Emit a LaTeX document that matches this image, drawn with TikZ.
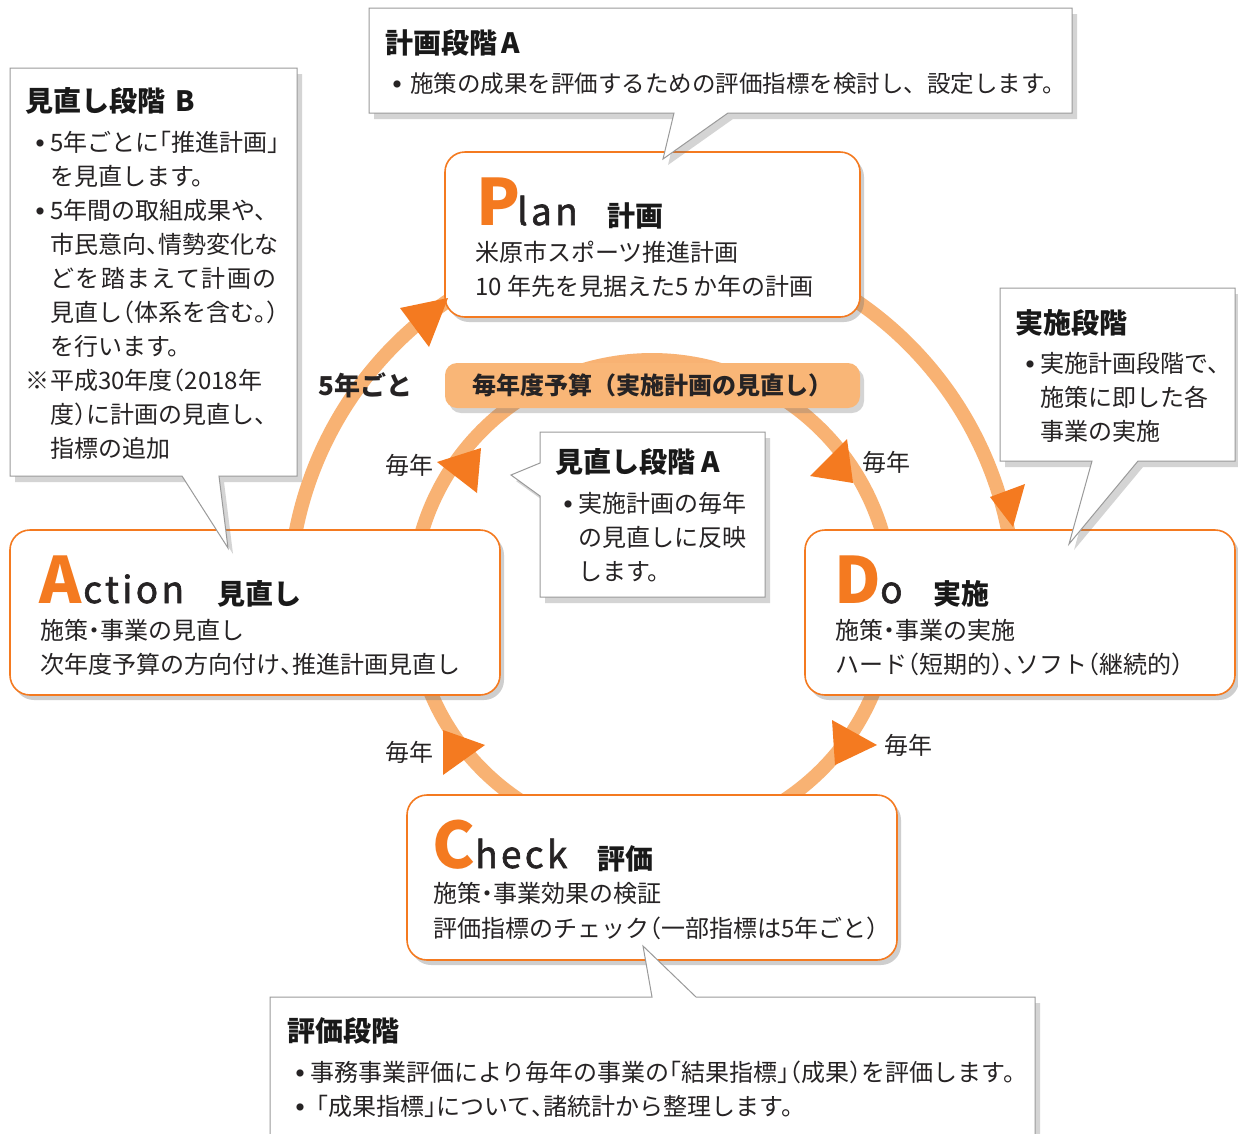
\documentclass[tikz,border=0pt]{standalone}
\usepackage{fontspec}
\setmainfont{Noto Sans CJK JP}
\newfontfamily\widefont[LetterSpace=9, FakeBold=1.6]{Noto Sans CJK JP}
\usetikzlibrary{shadows}
\definecolor{ora}{HTML}{F47A20}
\definecolor{ringc}{HTML}{F8B273}
\definecolor{barc}{HTML}{F9B677}
\definecolor{txtc}{HTML}{262324}
\definecolor{cgray}{HTML}{9A9A9A}
\newcommand\oq[1]{\makebox[.5em][r]{#1}}
\newcommand\cq[1]{\makebox[.5em][l]{#1}}
\newcommand\md{\makebox[.5em][c]{・}}
\newcommand\dotb{\raisebox{5pt}{\fontsize{8}{8}\selectfont ●}}
\newcommand\bul{\makebox[14pt][l]{\dotb}}
\tikzset{
  stagebox/.style={draw=ora, line width=1.6pt, fill=white, rounded corners=20pt,
    drop shadow={shadow xshift=4pt, shadow yshift=-5pt, opacity=0.35, fill=black!55}},
  calloutbox/.style={draw=cgray, line width=1pt, fill=white,
    drop shadow={shadow xshift=5pt, shadow yshift=-6pt, opacity=0.3, fill=black!55}},
  ringline/.style={draw=ringc, line width=14pt},
  tri/.style={fill=ora},
  txt/.style={anchor=base west, inner sep=0pt, text=txtc, font=\fontsize{24}{24}\selectfont},
  smalltxt/.style={txt, font=\fontsize{23.5}{23.5}\selectfont},
  ttl/.style={anchor=base west, inner sep=0pt, text=black!90, font=\fontsize{28}{28}\selectfont\bfseries},
  bigL/.style={anchor=base west, inner sep=0pt, text=ora, font=\fontsize{64}{64}\selectfont\bfseries},
  bigR/.style={anchor=base west, inner sep=0pt, text=txtc, font=\fontsize{37}{37}\selectfont\widefont},
  lbl/.style={anchor=base west, inner sep=0pt, text=txtc, font=\fontsize{24}{24}\selectfont}
}
\begin{document}
\begin{tikzpicture}[x=1pt,y=-1pt]
\useasboundingbox[fill=white] (0,0) rectangle (1238,1133);

% ring arcs
\draw[ringline] plot[domain=185:240, samples=60] ({652+363*cos(\x)},{601+363*sin(\x)});
\draw[ringline] plot[domain=300:355, samples=60] ({652+363*cos(\x)},{601+363*sin(\x)});
\draw[ringline] plot[domain=190:350, samples=120] ({652+240*cos(\x)},{600+240*sin(\x)});
\draw[ringline] plot[domain=118:165, samples=60] ({652+240*cos(\x)},{600+240*sin(\x)});
\draw[ringline] plot[domain=15:62, samples=60] ({652+240*cos(\x)},{600+240*sin(\x)});

% stage boxes
\node[stagebox, minimum width=415pt, minimum height=165pt] (plan) at (652.5,234.5) {};
\node[stagebox, minimum width=490pt, minimum height=165pt] (action) at (255,612.5) {};
\node[stagebox, minimum width=430pt, minimum height=165pt] (do) at (1020,612.5) {};
\node[stagebox, minimum width=490pt, minimum height=165pt] (check) at (652,877.5) {};

% budget bar
\node[fill=barc, rounded corners=12pt, minimum width=415pt, minimum height=45pt,
  drop shadow={shadow xshift=4pt, shadow yshift=-5pt, opacity=0.3, fill=black!55},
  text=txtc, font=\fontsize{24}{24}\selectfont\bfseries] (budget) at (652.5,385.5) {毎年度予算（実施計画の見直し）};

% arrowheads
\fill[tri] (400,308) -- (448,298) -- (429,347) -- cycle;
\fill[tri] (990,497) -- (1025,484) -- (1013,527) -- cycle;
\fill[tri] (437,462) -- (481,448) -- (477,493) -- cycle;
\fill[tri] (810,476) -- (847,439) -- (853,483) -- cycle;
\fill[tri] (443,730) -- (485,745) -- (443,775) -- cycle;
\fill[tri] (832,720) -- (877,745) -- (835,765) -- cycle;

% callouts
\path[calloutbox] (369,8) -- (1072,8) -- (1072,113) -- (728,113) -- (663,159) -- (674,113) -- (369,113) -- cycle;
\path[calloutbox] (10,68) -- (297,68) -- (297,476) -- (219,476) -- (228,548) -- (182,476) -- (10,476) -- cycle;
\path[calloutbox] (1000,288) -- (1235,288) -- (1235,461) -- (1138,461) -- (1069,544) -- (1092,461) -- (1000,461) -- cycle;
\path[calloutbox] (540,432) -- (765,432) -- (765,597) -- (540,597) -- (540,496) -- (511,475) -- (540,463) -- cycle;
\path[calloutbox] (270,997) -- (652,997) -- (643,946) -- (696,997) -- (1035,997) -- (1035,1145) -- (270,1145) -- cycle;

% Plan
\node[bigL] (planP) at (476,225) {P};
\node[bigR] (planR) at (517,225) {lan};
\node[ttl] (planT) at (607,226) {計画};
\node[txt] (plan1) at (475,261) {米原市スポーツ推進計画};
\node[txt] (plan2) at (475,295) {10 年先を見据えた5 か年の計画};

% Action
\node[bigL] (actA) at (39,603) {A};
\node[bigR] (actR) at (83,603) {ction};
\node[ttl] (actT) at (217,604) {見直し};
\node[txt] (act1) at (40,639) {施策\md 事業の見直し};
\node[txt] (act2) at (40,673) {次年度予算の方向付け\cq{、}推進計画見直し};

% Do
\node[bigL] (doD) at (834,603) {D};
\node[bigR] (doR) at (880,603) {o};
\node[ttl] (doT) at (933,604) {実施};
\node[txt] (do1) at (835,639) {施策\md 事業の実施};
\node[txt] (do2) at (835,673) {ハード\oq{（}短期的\cq{）}\cq{、}ソフト\oq{（}継続的\cq{）}};

% Check
\node[bigL] (chkC) at (432,868) {C};
\node[bigR] (chkR) at (475,868) {heck};
\node[ttl] (chkT) at (597,869) {評価};
\node[txt] (chk1) at (433,902) {施策\md 事業効果の検証};
\node[txt] (chk2) at (433,937) {評価指標のチェック\oq{（}一部指標は5年ごと\cq{）}};

% labels on ring
\node[lbl, font=\fontsize{26}{26}\selectfont\bfseries] (five) at (318,395) {5年ごと};
\node[lbl] (ev1) at (385,474) {毎年};
\node[lbl] (ev2) at (862,471) {毎年};
\node[lbl] (ev3) at (385,761) {毎年};
\node[lbl] (ev4) at (884,754) {毎年};

% callout texts: 計画段階A
\node[ttl] (cA) at (385,53) {計画段階\,A};
\node[smalltxt] (cA1) at (393,92) {\makebox[17pt][l]{\dotb}施策の成果を評価するための評価指標を検討し、設定します。};

% 見直し段階B
\node[ttl] (cB) at (25,111) {見直し段階\hspace{10pt}B};
\node[txt] (cB1) at (36,151) {\bul 5年ごとに\oq{「}推進計画\cq{」}};
\node[txt] (cB2) at (50,185) {を見直します。};
\node[txt] (cB3) at (36,219) {\bul 5年間の取組成果や、};
\node[txt] (cB4) at (50,253) {市民意向\cq{、}情勢変化な};
\node[txt] (cB5) at (50,287) {\addfontfeatures{LetterSpace=6}どを踏まえて計画の};
\node[txt] (cB6) at (50,321) {見直し\oq{（}体系を含む\cq{。}\cq{）}};
\node[txt] (cB7) at (50,355) {を行います。};
\node[txt] (cB8) at (25,389) {\makebox[25pt][l]{※}平成30年度\oq{（}2018年};
\node[txt] (cB9) at (50,423) {度\cq{）}に計画の見直し、};
\node[txt] (cB10) at (50,457) {指標の追加};

% 実施段階
\node[ttl] (cD) at (1015,333) {実施段階};
\node[txt] (cD1) at (1026,372) {\bul 実施計画段階で、};
\node[txt] (cD2) at (1040,406) {施策に即した各};
\node[txt] (cD3) at (1040,440) {事業の実施};

% 見直し段階A
\node[ttl] (cR) at (555,472) {見直し段階\hspace{6pt}A};
\node[txt] (cR1) at (564,512) {\bul 実施計画の毎年};
\node[txt] (cR2) at (578,546) {の見直しに反映};
\node[txt] (cR3) at (578,580) {します。};

% 評価段階
\node[ttl] (cE) at (287,1041) {評価段階};
\node[txt] (cE1) at (296,1081) {\bul 事務事業評価により毎年の事業の\oq{「}結果指標\cq{」}\oq{（}成果\cq{）}を評価します。};
\node[txt] (cE2) at (296,1115) {\makebox[8pt][l]{\dotb}「成果指標\cq{」}について\cq{、}諸統計から整理します。};
\end{tikzpicture}
\end{document}
